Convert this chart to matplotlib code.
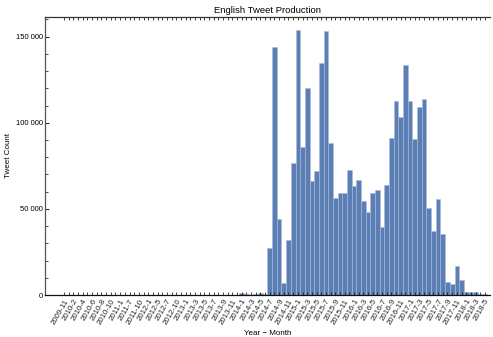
import matplotlib.pyplot as plt
from matplotlib.ticker import MultipleLocator, FuncFormatter

plt.rcParams['font.family'] = ['Liberation Sans', 'DejaVu Sans']

# months that have tweets (early years are sparse)
months = [
    "2009-11", "2009-12", "2010-2", "2010-3", "2010-4", "2010-5", "2010-6", "2010-7",
    "2010-8", "2010-9", "2010-10", "2010-12", "2011-1", "2011-4", "2011-7", "2011-8",
    "2011-10", "2011-12", "2012-1", "2012-3", "2012-5", "2012-6", "2012-7", "2012-8",
    "2012-10", "2012-11",
    "2013-1", "2013-2", "2013-3", "2013-4", "2013-5", "2013-6", "2013-7", "2013-8",
    "2013-9", "2013-10", "2013-11", "2013-12",
    "2014-1", "2014-2", "2014-3", "2014-4", "2014-5", "2014-6", "2014-7", "2014-8",
    "2014-9", "2014-10", "2014-11", "2014-12",
    "2015-1", "2015-2", "2015-3", "2015-4", "2015-5", "2015-6", "2015-7", "2015-8",
    "2015-9", "2015-10", "2015-11", "2015-12",
    "2016-1", "2016-2", "2016-3", "2016-4", "2016-5", "2016-6", "2016-7", "2016-8",
    "2016-9", "2016-10", "2016-11", "2016-12",
    "2017-1", "2017-2", "2017-3", "2017-4", "2017-5", "2017-6", "2017-7", "2017-8",
    "2017-9", "2017-10", "2017-11", "2017-12",
    "2018-1", "2018-2", "2018-3", "2018-4", "2018-5",
]

tweets = [
    10, 4, 6, 3, 8, 5, 12, 7, 9, 4, 6, 3, 5, 2, 4, 3, 6, 2, 5, 3,
    8, 6, 10, 7, 12, 9, 15, 20, 18, 25, 30, 22, 40, 35, 60, 80, 120, 150,
    900, 600, 250, 400, 900, 700,
    27500, 144200, 44100, 7000, 31900, 76800, 153900, 86100, 120000, 66400,
    72000, 134900, 153300, 88300, 56100, 59000, 59400, 72800, 63500, 66800,
    54600, 48200, 59400, 61000, 39500, 63900, 91200, 112700, 103400, 133700,
    112700, 90600, 109200, 113600, 50500, 37000, 55900, 35400, 7500, 6400,
    16700, 8900, 1700, 1700, 1700, 600, 300,
]

fig = plt.figure(figsize=(4.93, 3.37), dpi=100)
ax = fig.add_axes([0.0913, 0.1246, 0.9027, 0.8258])

x = list(range(len(months)))
ax.bar(x, tweets, width=1.0, color='#5b7fb5', edgecolor='#a9bbd8', linewidth=0.4)

ax.set_xlim(-4.07, 91.1)
ax.set_ylim(0, 161600)

ax.set_xticks(x)
ax.set_xticklabels([m if i % 2 == 0 else '' for i, m in enumerate(months)],
                   rotation=60, ha='right', va='top', rotation_mode='anchor',
                   fontsize=5.6)
ax.yaxis.set_major_locator(MultipleLocator(50000))
ax.yaxis.set_minor_locator(MultipleLocator(10000))
ax.yaxis.set_major_formatter(FuncFormatter(lambda v, p: f"{int(v):,}".replace(",", " ")))

ax.tick_params(axis='x', direction='in', length=2, width=0.6, top=True, pad=2, colors='#222222')
ax.tick_params(axis='y', which='major', direction='in', length=3, width=0.6, labelsize=5.5, pad=1.5)
ax.tick_params(axis='y', which='minor', direction='in', length=1.8, width=0.5)

ax.spines['right'].set_visible(False)
for s in ('left', 'bottom', 'top'):
    ax.spines[s].set_linewidth(0.9)
ax.spines['left'].set_color('#555555')
ax.spines['bottom'].set_color('#111111')
ax.spines['top'].set_color('#333333')

ax.set_title("English Tweet Production", fontsize=6.8, pad=3)
ax.set_xlabel("Year \u2212 Month", fontsize=5.8, labelpad=3)
ax.set_ylabel("Tweet Count", fontsize=5.8, labelpad=3)

fig.savefig("out.png", dpi=100)
